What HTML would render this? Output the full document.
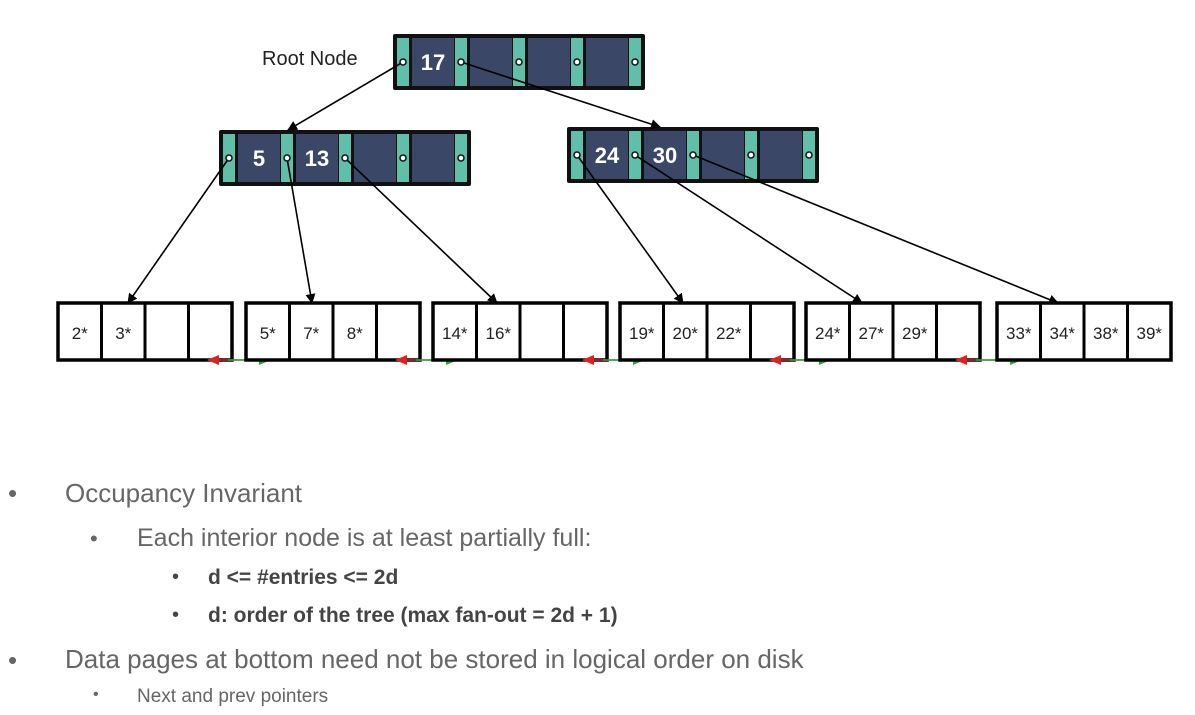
<!DOCTYPE html>
<html><head><meta charset="utf-8"><style>
body{margin:0;background:#fff;width:1195px;height:715px;overflow:hidden;position:relative;font-family:"Liberation Sans",sans-serif}
.t{position:absolute;color:#666;white-space:nowrap}
.b{position:absolute;color:#666}
</style></head><body>
<svg id="svg" width="1195" height="400" style="position:absolute;left:0;top:0">
<defs>
<marker id="ah" markerWidth="10" markerHeight="10" refX="9" refY="5" orient="auto" markerUnits="userSpaceOnUse"><path d="M0,0 L10,5 L0,10 z" fill="#000"/></marker>
<marker id="ar" markerWidth="12" markerHeight="10" refX="11" refY="5" orient="auto" markerUnits="userSpaceOnUse"><path d="M0,0 L12,5 L0,10 z" fill="#d22"/></marker>
<marker id="ag" markerWidth="12" markerHeight="10" refX="11" refY="5" orient="auto" markerUnits="userSpaceOnUse"><path d="M0,0 L12,5 L0,10 z" fill="#2a4"/></marker>
</defs>
<text x="262" y="65" font-size="20" font-family="Liberation Sans" fill="#222">Root Node</text>
</svg>
<script>
const svg=document.getElementById('svg');
const NS='http://www.w3.org/2000/svg';
function mk(tag,attrs,parent){const e=document.createElementNS(NS,tag);for(const k in attrs)e.setAttribute(k,attrs[k]);(parent||svg).appendChild(e);return e;}
const interior=[{x:393,y:34,keys:['17']},{x:219,y:130,keys:['5','13']},{x:567,y:127,keys:['24','30']}];
const leaves=[{x:58,keys:['2*','3*']},{x:246,keys:['5*','7*','8*']},{x:433,keys:['14*','16*']},{x:620,keys:['19*','20*','22*']},{x:806,keys:['24*','27*','29*']},{x:997,keys:['33*','34*','38*','39*']}];
const LY=303,LH=57,LW=174;
const ptrs=[[0,0,1,'top'],[0,1,2,'top'],[1,0,0],[1,1,1],[1,2,2],[2,0,3],[2,1,4],[2,2,5]];
const targetX=[128,312,497,683,862,1058];
function px(n,i){return interior[n].x+10+i*58;}
function py(n){return interior[n].y+28;}
interior.forEach((n,ni)=>{
 const g=mk('g',{});
 
 
 mk('rect',{x:n.x,y:n.y,width:252,height:56,fill:'#111',rx:2},g);
 for(let i=0;i<4;i++){
  mk('rect',{x:n.x+19+i*58,y:n.y+4,width:42,height:48,fill:'#3a4766'},g);
  if(n.keys[i]){const t=mk('text',{x:n.x+40+i*58,y:n.y+36,'font-size':22,'font-weight':'bold','text-anchor':'middle',fill:'#fff','font-family':'Liberation Sans'},g);t.textContent=n.keys[i];}
 }
 for(let i=0;i<5;i++){
  mk('rect',{x:n.x+4+i*58,y:n.y+4,width:12,height:48,fill:'#5fbfa8'},g);
 }
});
leaves.forEach((lf,li)=>{
 const g=mk('g',{});
 
 
 mk('rect',{x:lf.x,y:LY,width:LW,height:LH,fill:'#fff',stroke:'#000','stroke-width':3.5},g);
 for(let i=1;i<4;i++)mk('line',{x1:lf.x+i*LW/4,y1:LY,x2:lf.x+i*LW/4,y2:LY+LH,stroke:'#000','stroke-width':3},g);
 lf.keys.forEach((k,i)=>{const t=mk('text',{x:lf.x+LW/8+i*LW/4,y:LY+36,'font-size':17,'text-anchor':'middle',fill:'#222','font-family':'Liberation Sans Narrow, Liberation Sans'},g);t.textContent=k;});
 if(li<leaves.length-1){
  const x1=lf.x+LW-24,x2=leaves[li+1].x+24,y=LY+LH;
  const a=mk('line',{x1:x2,y1:y,x2:x1,y2:y,stroke:'#d22','stroke-width':1.5,'marker-end':'url(#ar)'});
  
  
  const b=mk('line',{x1:x1+20,y1:y,x2:x2,y2:y,stroke:'#2a4','stroke-width':1.5,'marker-end':'url(#ag)'});
  
  
 }
});
ptrs.forEach(p=>{
 let tx,ty;
 if(p[3]==='top'){const t=interior[p[2]];tx=p[2]===1?288:660;ty=t.y;}
 else{tx=targetX[p[2]];ty=LY;}
 const l=mk('line',{x1:px(p[0],p[1]),y1:py(p[0]),x2:tx,y2:ty,stroke:'#000','stroke-width':1.6,'marker-end':'url(#ah)'});
 
 
});
interior.forEach(n=>{
 for(let i=0;i<5;i++){
  const c=mk('circle',{cx:n.x+10+i*58,cy:n.y+28,r:3,fill:'#fff',stroke:'#111','stroke-width':1.5});
  
  
 }
});
</script>
<div>
<div class="b" style="left:8px;top:478px;font-size:26px">•</div>
<div class="t" style="left:65px;top:478px;font-size:26px">Occupancy Invariant</div>
<div class="b" style="left:90px;top:526px;font-size:22px">•</div>
<div class="t" style="left:137px;top:524px;font-size:25px">Each interior node is at least partially full:</div>
<div class="b" style="left:172px;top:566px;font-size:20px;color:#444">•</div>
<div class="t" style="left:208px;top:566px;font-size:21px;font-weight:bold;color:#444">d &lt;= #entries &lt;= 2d</div>
<div class="b" style="left:172px;top:604px;font-size:20px;color:#444">•</div>
<div class="t" style="left:208px;top:604px;font-size:21px;font-weight:bold;color:#444">d: order of the tree (max fan-out = 2d + 1)</div>
<div class="b" style="left:8px;top:645px;font-size:26px">•</div>
<div class="t" style="left:65px;top:644px;font-size:26px">Data pages at bottom need not be stored in logical order on disk</div>
<div class="b" style="left:93px;top:686px;font-size:16px">•</div>
<div class="t" style="left:137px;top:686px;font-size:19px">Next and prev pointers</div>
</div>
</body></html>
